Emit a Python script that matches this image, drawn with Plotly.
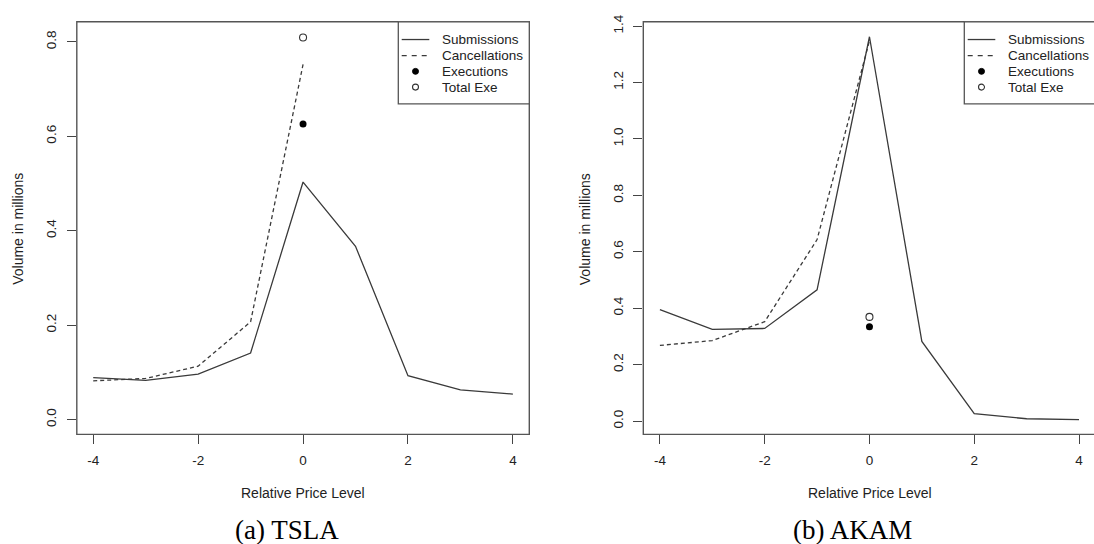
import plotly.graph_objects as go

# ---------------- data ----------------
price_levels = [-4, -3, -2, -1, 0, 1, 2, 3, 4]
cancel_levels = [-4, -3, -2, -1, 0]
exe_level = [0]

tsla_submissions = [0.089, 0.083, 0.096, 0.141, 0.503, 0.367, 0.093, 0.063, 0.054]
tsla_cancellations = [0.082, 0.087, 0.113, 0.207, 0.752]
tsla_executions = [0.626]
tsla_total_exe = [0.809]

akam_submissions = [0.395, 0.325, 0.328, 0.465, 1.362, 0.282, 0.026, 0.008, 0.005]
akam_cancellations = [0.268, 0.285, 0.352, 0.643, 1.348]
akam_executions = [0.334]
akam_total_exe = [0.369]

x_tickvals = [-4, -2, 0, 2, 4]
x_ticktext = ["-4", "-2", "0", "2", "4"]
tsla_y_tickvals = [0.0, 0.2, 0.4, 0.6, 0.8]
tsla_y_ticktext = ["0.0", "0.2", "0.4", "0.6", "0.8"]
akam_y_tickvals = [0.0, 0.2, 0.4, 0.6, 0.8, 1.0, 1.2, 1.4]
akam_y_ticktext = ["0.0", "0.2", "0.4", "0.6", "0.8", "1.0", "1.2", "1.4"]

legend_labels = ["Submissions", "Cancellations", "Executions", "Total Exe"]
x_title = "Relative Price Level"
y_title = "Volume in millions"
captions = ["(a) TSLA", "(b) AKAM"]

# ---------------- layout helpers ----------------
W, H = 1094, 544
def fx(p):
    return p / W
def fy(p):
    return 1 - p / H

LINE = "#3a3a3a"
BOX = "#555555"
TXT = "#222222"
SANS = "Liberation Sans, Arial, sans-serif"
SERIF = "Liberation Serif, Times New Roman, serif"

top_px, bot_px = 14.0, 432.7
L1_left, L1_right = 76.8, 529.3
L2_left = 643.3

fig = go.Figure()

def add_panel(xa, ya, sub, canc, exe, tot):
    fig.add_trace(go.Scatter(x=price_levels, y=sub, mode="lines",
                             line=dict(color=LINE, width=1.3),
                             xaxis=xa, yaxis=ya, showlegend=False, name=legend_labels[0]))
    fig.add_trace(go.Scatter(x=cancel_levels, y=canc, mode="lines",
                             line=dict(color=LINE, width=1.3, dash="4px,3px"),
                             xaxis=xa, yaxis=ya, showlegend=False, name=legend_labels[1]))
    fig.add_trace(go.Scatter(x=exe_level, y=exe, mode="markers",
                             marker=dict(symbol="circle", size=7, color="black"),
                             xaxis=xa, yaxis=ya, showlegend=False, name=legend_labels[2]))
    fig.add_trace(go.Scatter(x=exe_level, y=tot, mode="markers",
                             marker=dict(symbol="circle-open", size=7, color="#333333",
                                         line=dict(width=1.1)),
                             xaxis=xa, yaxis=ya, showlegend=False, name=legend_labels[3]))

add_panel("x", "y", tsla_submissions, tsla_cancellations, tsla_executions, tsla_total_exe)
add_panel("x2", "y2", akam_submissions, akam_cancellations, akam_executions, akam_total_exe)

axis_common = dict(showgrid=False, zeroline=False, showline=False, ticks="outside",
                   ticklen=9, tickwidth=1.2, tickcolor="#444444",
                   tickfont=dict(family=SANS, size=13.5, color=TXT))

ydom = [fy(bot_px), fy(top_px)]
fig.update_layout(
    width=W, height=H, margin=dict(l=0, r=0, t=0, b=0),
    paper_bgcolor="white", plot_bgcolor="white", showlegend=False,
    xaxis=dict(domain=[fx(L1_left), fx(L1_right)], range=[-4.313, 4.313],
               tickvals=x_tickvals, ticktext=x_ticktext, anchor="y",
               ticklabelstandoff=4, **axis_common),
    yaxis=dict(domain=ydom, range=[-0.0313, 0.8424], tickvals=tsla_y_tickvals,
               ticktext=tsla_y_ticktext, tickangle=-90, anchor="x",
               ticklabelstandoff=5, **axis_common),
    xaxis2=dict(domain=[fx(L2_left), 1.0], range=[-4.317, 4.286],
                tickvals=x_tickvals, ticktext=x_ticktext, anchor="y2",
                ticklabelstandoff=4, **axis_common),
    yaxis2=dict(domain=ydom, range=[-0.0472, 1.415], tickvals=akam_y_tickvals,
                ticktext=akam_y_ticktext, tickangle=-90, anchor="x2",
                ticklabelstandoff=5, **axis_common),
)

shapes = []
# box of left panel
shapes.append(dict(type="rect", xref="x domain", yref="y domain", x0=0, x1=1, y0=0, y1=1,
                   line=dict(color=BOX, width=1.4), layer="above"))
# box of right panel (right side lies beyond the page edge)
shapes.append(dict(type="path", xref="paper", yref="paper",
                   path=f"M 1.01 {fy(top_px)} L {fx(L2_left)} {fy(top_px)} L {fx(L2_left)} {fy(bot_px)} L 1.01 {fy(bot_px)}",
                   line=dict(color=BOX, width=1.4), layer="above"))

annotations = []

def add_legend(left_px, right_px, closed):
    bottom = 97.3
    x1 = fx(right_px) if closed else 1.01
    shapes.append(dict(type="rect", xref="paper", yref="paper",
                       x0=fx(left_px), x1=x1, y0=fy(bottom), y1=fy(top_px),
                       line=dict(color=BOX, width=1.3), fillcolor="white", layer="above"))
    rows = [32.0, 48.3, 64.3, 80.3]
    s0, s1 = left_px + 3.4, left_px + 31.0
    sc = (s0 + s1) / 2
    tx = left_px + 41.7
    # line samples
    shapes.append(dict(type="line", xref="paper", yref="paper", x0=fx(s0), x1=fx(s1),
                       y0=fy(rows[0]), y1=fy(rows[0]), line=dict(color=LINE, width=1.3), layer="above"))
    shapes.append(dict(type="line", xref="paper", yref="paper", x0=fx(s0), x1=fx(s1),
                       y0=fy(rows[1]), y1=fy(rows[1]),
                       line=dict(color=LINE, width=1.3, dash="5px,5px"), layer="above"))
    r = 3.0
    shapes.append(dict(type="circle", xref="paper", yref="paper", x0=fx(sc - r), x1=fx(sc + r),
                       y0=fy(rows[2] + r), y1=fy(rows[2] - r), fillcolor="black",
                       line=dict(color="black", width=1), layer="above"))
    shapes.append(dict(type="circle", xref="paper", yref="paper", x0=fx(sc - r), x1=fx(sc + r),
                       y0=fy(rows[3] + r), y1=fy(rows[3] - r), fillcolor="white",
                       line=dict(color="#333333", width=1.1), layer="above"))
    for lab, ry in zip(legend_labels, rows):
        annotations.append(dict(text=lab, x=fx(tx), y=fy(ry), xref="paper", yref="paper",
                                xanchor="left", yanchor="middle", showarrow=False,
                                font=dict(family=SANS, size=13.5, color=TXT)))

add_legend(398.3, L1_right, True)
add_legend(964.3, 1096, False)

# axis titles
for cx in [(L1_left + L1_right) / 2, 870.0]:
    annotations.append(dict(text=x_title, x=fx(cx), y=fy(492.7), xref="paper", yref="paper",
                            xanchor="center", yanchor="middle", showarrow=False,
                            font=dict(family=SANS, size=14, color=TXT)))
for cx in [18.6, 585.0]:
    annotations.append(dict(text=y_title, x=fx(cx), y=fy(224.5), xref="paper", yref="paper",
                            xanchor="center", yanchor="middle", showarrow=False, textangle=-90,
                            font=dict(family=SANS, size=14, color=TXT)))
# captions
for cap, cx in zip(captions, [287.0, 852.7]):
    annotations.append(dict(text=cap, x=fx(cx), y=fy(530.0), xref="paper", yref="paper",
                            xanchor="center", yanchor="middle", showarrow=False,
                            font=dict(family=SERIF, size=27, color="black")))

fig.update_layout(shapes=shapes, annotations=annotations)
fig.write_html("out.html")
